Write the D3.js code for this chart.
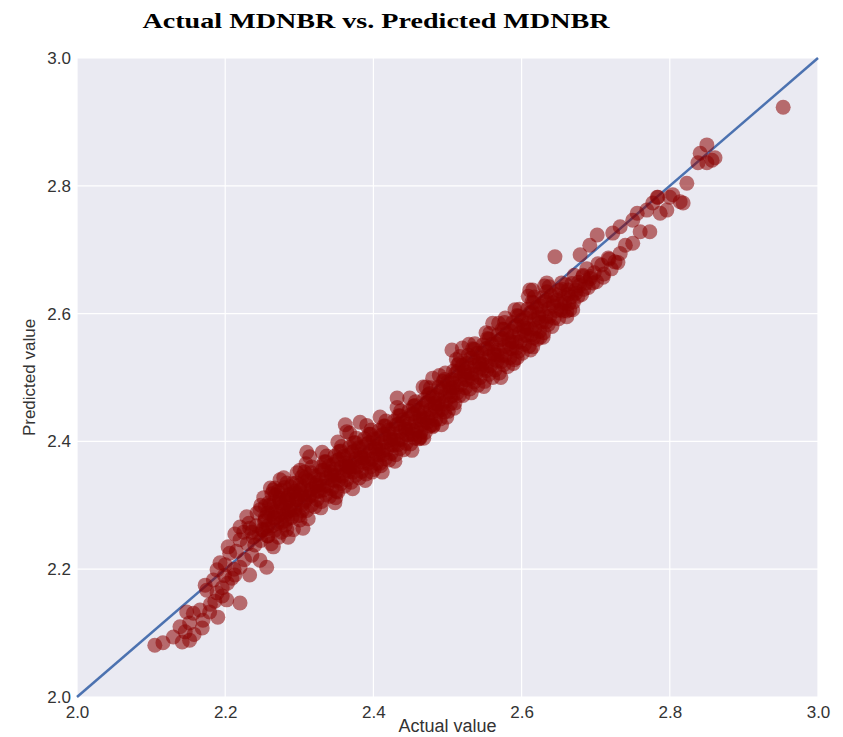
<!DOCTYPE html>
<html lang='en'>
<head>
<meta charset='utf-8'>
<script src='https://d3js.org/d3.v7.min.js'></script>
<style>
  body { margin: 0; background: #fff; }
  svg text { font-family: "Liberation Sans", Arial, sans-serif; fill: #333; }
</style>
</head>
<body>
<svg id='chart' width='843' height='737'></svg>
<script>
// axis ticks
var xTicks = [2.0, 2.2, 2.4, 2.6, 2.8, 3.0];
var yTicks = [2.0, 2.2, 2.4, 2.6, 2.8, 3.0];

// lower tail (actual, predicted)
var tailPoints = [
  [2.105,2.081],[2.116,2.085],[2.142,2.086],[2.152,2.089],[2.130,2.094],
  [2.139,2.110],[2.152,2.116],[2.169,2.108],[2.157,2.131],[2.148,2.133],
  [2.166,2.136],[2.179,2.133],[2.190,2.125],[2.175,2.167],[2.189,2.163],
  [2.202,2.152],[2.220,2.147],[2.173,2.175],[2.193,2.210],[2.189,2.199],
  [2.206,2.225],[2.220,2.203],[2.233,2.191],[2.256,2.203],[2.247,2.214],
  [2.204,2.235],[2.220,2.266],[2.229,2.282],[2.238,2.250],[2.251,2.261],
  [2.265,2.235],[2.220,2.246],[2.247,2.293],[2.265,2.324],[2.274,2.304],
  [2.283,2.335],[2.297,2.351],[2.184,2.183],[2.196,2.171],[2.209,2.186],
  [2.200,2.207],[2.213,2.191],[2.240,2.238],[2.254,2.277],[2.267,2.261],
  [2.281,2.285],[2.233,2.264],[2.260,2.300],[2.287,2.316],[2.294,2.293],
  [2.301,2.324],[2.274,2.340],[2.281,2.269],[2.301,2.277],
  [2.158,2.098],[2.146,2.102],[2.170,2.120],[2.180,2.145],[2.196,2.158],
  [2.186,2.150],[2.203,2.178],[2.212,2.200],[2.199,2.190],[2.226,2.215],
  [2.215,2.228],[2.236,2.222],[2.230,2.240],[2.245,2.255],[2.213,2.255],
  [2.225,2.258],
  [2.232,2.272],[2.242,2.268],[2.243,2.288],[2.236,2.258],[2.248,2.245],
  [2.258,2.252],[2.262,2.240],[2.272,2.250],[2.276,2.258],[2.292,2.262],
  [2.285,2.250]
];

// dense central band
var bandPoints = [
  [2.250,2.262],[2.254,2.281],[2.248,2.300],[2.252,2.312],
  [2.258,2.268],[2.262,2.286],[2.259,2.304],[2.263,2.318],
  [2.270,2.272],[2.268,2.290],[2.273,2.308],[2.271,2.322],[2.266,2.281],
  [2.281,2.276],[2.278,2.295],[2.283,2.311],[2.280,2.328],[2.284,2.290],
  [2.290,2.281],[2.288,2.299],[2.293,2.318],[2.291,2.334],[2.286,2.308],
  [2.300,2.284],[2.303,2.300],[2.298,2.316],[2.301,2.332],[2.304,2.345],[2.297,2.309],
  [2.310,2.292],[2.308,2.308],[2.313,2.323],[2.311,2.339],[2.307,2.352],[2.314,2.316],
  [2.321,2.298],[2.318,2.316],[2.323,2.331],[2.320,2.346],[2.317,2.360],[2.324,2.322],
  [2.330,2.306],[2.333,2.324],[2.328,2.340],[2.331,2.355],[2.334,2.368],[2.327,2.332],
  [2.341,2.314],[2.338,2.331],[2.343,2.348],[2.340,2.362],[2.337,2.377],[2.344,2.340],
  [2.350,2.322],[2.353,2.339],[2.348,2.356],[2.351,2.370],[2.354,2.384],[2.347,2.347],
  [2.361,2.330],[2.358,2.346],[2.363,2.362],[2.360,2.377],[2.357,2.392],[2.364,2.355],
  [2.370,2.336],[2.373,2.352],[2.368,2.368],[2.371,2.383],[2.374,2.398],[2.367,2.360],
  [2.381,2.343],[2.378,2.360],[2.383,2.375],[2.380,2.390],[2.377,2.405],[2.384,2.368],
  [2.390,2.349],[2.393,2.366],[2.388,2.382],[2.391,2.396],[2.394,2.411],[2.387,2.374],
  [2.401,2.356],[2.398,2.372],[2.403,2.389],[2.400,2.404],[2.397,2.418],[2.404,2.380],
  [2.410,2.362],[2.413,2.379],[2.408,2.395],[2.411,2.410],[2.414,2.424],[2.407,2.388],
  [2.421,2.371],[2.418,2.387],[2.423,2.403],[2.420,2.418],[2.417,2.432],[2.424,2.395],
  [2.430,2.379],[2.433,2.395],[2.428,2.411],[2.431,2.426],[2.434,2.440],[2.427,2.403],
  [2.441,2.387],[2.438,2.403],[2.443,2.419],[2.440,2.434],[2.437,2.448],[2.444,2.411],
  [2.450,2.396],[2.453,2.411],[2.448,2.427],[2.451,2.442],[2.454,2.455],[2.447,2.419],
  [2.461,2.404],[2.458,2.419],[2.463,2.434],[2.460,2.449],[2.457,2.462],[2.464,2.427],
  [2.470,2.414],[2.473,2.430],[2.468,2.445],[2.471,2.460],[2.474,2.473],[2.467,2.437],
  [2.481,2.425],[2.478,2.440],[2.483,2.455],[2.480,2.470],[2.477,2.484],[2.484,2.448],
  [2.490,2.435],[2.493,2.450],[2.488,2.465],[2.491,2.480],[2.494,2.494],[2.487,2.458],
  [2.501,2.447],[2.498,2.463],[2.503,2.478],[2.500,2.493],[2.497,2.507],[2.504,2.470],
  [2.510,2.460],[2.513,2.476],[2.508,2.491],[2.511,2.506],[2.514,2.520],[2.507,2.484],
  [2.521,2.472],[2.518,2.489],[2.523,2.504],[2.520,2.519],[2.517,2.533],[2.524,2.497],
  [2.530,2.482],[2.533,2.499],[2.528,2.515],[2.531,2.530],[2.534,2.545],[2.527,2.508],
  [2.541,2.488],[2.538,2.505],[2.543,2.522],[2.540,2.538],[2.537,2.553],[2.544,2.515],
  [2.550,2.494],[2.553,2.511],[2.548,2.529],[2.551,2.545],[2.554,2.561],[2.547,2.521],
  [2.561,2.500],[2.558,2.518],[2.563,2.536],[2.560,2.552],[2.557,2.569],[2.564,2.528],
  [2.570,2.507],[2.573,2.525],[2.568,2.543],[2.571,2.559],[2.574,2.576],[2.567,2.535],
  [2.581,2.517],[2.578,2.535],[2.583,2.553],[2.580,2.569],[2.577,2.586],[2.584,2.545],
  [2.590,2.528],[2.593,2.546],[2.588,2.564],[2.591,2.580],[2.594,2.597],[2.587,2.556],
  [2.601,2.538],[2.598,2.556],[2.603,2.574],[2.600,2.590],[2.597,2.607],[2.604,2.566],
  [2.610,2.549],[2.613,2.567],[2.608,2.585],[2.611,2.601],[2.614,2.618],[2.607,2.577],
  [2.621,2.560],[2.618,2.577],[2.623,2.594],[2.620,2.610],[2.617,2.626],[2.624,2.586],
  [2.630,2.570],[2.633,2.587],[2.628,2.603],[2.631,2.619],[2.634,2.634],
  [2.641,2.580],[2.638,2.596],[2.643,2.612],[2.640,2.628],[2.637,2.642],
  [2.650,2.592],[2.653,2.606],[2.648,2.621],[2.651,2.636],[2.654,2.648],
  [2.661,2.604],[2.658,2.617],[2.663,2.630],[2.660,2.645],
  [2.670,2.618],[2.673,2.632],[2.668,2.647],[2.671,2.660],
  [2.681,2.630],[2.678,2.644],[2.683,2.658],
  [2.690,2.641],[2.693,2.655],[2.688,2.670],
  [2.701,2.650],[2.698,2.664],[2.703,2.678],
  [2.711,2.662],[2.708,2.676],
  [2.721,2.670],[2.718,2.685],
  [2.730,2.680],[2.733,2.694]
];

// second layer of the band, between the first layer's points
var bandFill = [
  [2.256,2.263],[2.253,2.275],[2.257,2.288],[2.254,2.299],
  [2.264,2.268],[2.267,2.280],[2.263,2.293],[2.266,2.305],[2.268,2.316],
  [2.276,2.273],[2.273,2.286],[2.277,2.299],[2.274,2.311],[2.276,2.323],
  [2.284,2.279],[2.287,2.292],[2.283,2.305],[2.286,2.317],[2.288,2.329],
  [2.296,2.284],[2.293,2.297],[2.297,2.310],[2.294,2.322],[2.296,2.335],
  [2.304,2.292],[2.307,2.305],[2.303,2.318],[2.306,2.330],[2.308,2.343],
  [2.316,2.300],[2.313,2.313],[2.317,2.326],[2.314,2.338],[2.316,2.351],
  [2.324,2.309],[2.327,2.322],[2.323,2.335],[2.326,2.347],[2.328,2.360],
  [2.336,2.317],[2.333,2.330],[2.337,2.343],[2.334,2.355],[2.336,2.368],
  [2.344,2.326],[2.347,2.339],[2.343,2.352],[2.346,2.364],[2.348,2.377],
  [2.356,2.334],[2.353,2.347],[2.357,2.360],[2.354,2.372],[2.356,2.385],
  [2.364,2.340],[2.367,2.353],[2.363,2.366],[2.366,2.378],[2.368,2.391],
  [2.376,2.347],[2.373,2.360],[2.377,2.373],[2.374,2.385],[2.376,2.398],
  [2.384,2.353],[2.387,2.366],[2.383,2.379],[2.386,2.391],[2.388,2.404],
  [2.396,2.360],[2.393,2.373],[2.397,2.386],[2.394,2.398],[2.396,2.411],
  [2.404,2.366],[2.407,2.379],[2.403,2.392],[2.406,2.404],[2.408,2.417],
  [2.416,2.373],[2.413,2.386],[2.417,2.399],[2.414,2.411],[2.416,2.424],
  [2.424,2.381],[2.427,2.394],[2.423,2.407],[2.426,2.419],[2.428,2.432],
  [2.436,2.389],[2.433,2.402],[2.437,2.415],[2.434,2.427],[2.436,2.440],
  [2.444,2.397],[2.447,2.410],[2.443,2.423],[2.446,2.435],[2.448,2.448],
  [2.456,2.405],[2.453,2.418],[2.457,2.431],[2.454,2.443],[2.456,2.456],
  [2.464,2.414],[2.467,2.427],[2.463,2.440],[2.466,2.452],[2.468,2.465],
  [2.476,2.424],[2.473,2.437],[2.477,2.450],[2.474,2.462],[2.476,2.475],
  [2.484,2.434],[2.487,2.447],[2.483,2.460],[2.486,2.472],[2.488,2.485],
  [2.496,2.446],[2.493,2.459],[2.497,2.472],[2.494,2.484],[2.496,2.497],
  [2.504,2.459],[2.507,2.472],[2.503,2.485],[2.506,2.497],[2.508,2.510],
  [2.516,2.472],[2.513,2.485],[2.517,2.498],[2.514,2.510],[2.516,2.523],
  [2.524,2.484],[2.527,2.497],[2.523,2.510],[2.526,2.522],[2.528,2.535],
  [2.536,2.493],[2.533,2.506],[2.537,2.519],[2.534,2.531],[2.536,2.544],
  [2.544,2.500],[2.547,2.513],[2.543,2.526],[2.546,2.538],[2.548,2.551],
  [2.556,2.505],[2.553,2.519],[2.557,2.533],[2.554,2.546],[2.556,2.560],
  [2.564,2.512],[2.567,2.526],[2.563,2.540],[2.566,2.553],[2.568,2.567],
  [2.576,2.520],[2.573,2.534],[2.577,2.548],[2.574,2.561],[2.576,2.575],
  [2.584,2.531],[2.587,2.545],[2.583,2.559],[2.586,2.572],[2.588,2.586],
  [2.596,2.541],[2.593,2.555],[2.597,2.569],[2.594,2.582],[2.596,2.596],
  [2.604,2.552],[2.607,2.566],[2.603,2.580],[2.606,2.593],[2.608,2.607],
  [2.616,2.562],[2.613,2.576],[2.617,2.590],[2.614,2.603],[2.616,2.617],
  [2.624,2.572],[2.627,2.586],[2.623,2.599],[2.626,2.612],[2.628,2.625],
  [2.636,2.583],[2.633,2.596],[2.637,2.608],[2.634,2.621],
  [2.644,2.593],[2.647,2.605],[2.643,2.617],[2.646,2.630],
  [2.656,2.604],[2.653,2.615],[2.657,2.626],[2.654,2.638],
  [2.664,2.616],[2.667,2.626],[2.663,2.637],
  [2.676,2.627],[2.673,2.637],[2.677,2.649],
  [2.684,2.638],[2.687,2.648],[2.683,2.660],
  [2.696,2.648],[2.693,2.658]
];

// points along the upper and lower edges of the band
var edgePoints = [
  [2.261,2.327],[2.257,2.252],[2.279,2.343],[2.283,2.262],
  [2.309,2.365],[2.312,2.279],[2.331,2.383],[2.329,2.296],
  [2.352,2.399],[2.349,2.312],[2.368,2.413],[2.372,2.326],
  [2.391,2.425],[2.389,2.339],[2.409,2.438],[2.412,2.352],
  [2.432,2.453],[2.429,2.369],[2.449,2.468],[2.452,2.386],
  [2.471,2.485],[2.468,2.405],[2.489,2.503],[2.492,2.426],
  [2.512,2.528],[2.509,2.452],[2.529,2.552],[2.532,2.476],
  [2.552,2.570],[2.549,2.486],[2.569,2.585],[2.572,2.500],
  [2.591,2.606],[2.589,2.522],[2.609,2.627],[2.612,2.543],
  [2.631,2.643],[2.629,2.563]
];

// scattered points around the band and the upper end
var outerPoints = [
  [2.310,2.383],[2.314,2.376],[2.267,2.327],[2.301,2.355],[2.362,2.426],
  [2.364,2.415],[2.382,2.430],[2.348,2.304],[2.305,2.264],[2.398,2.352],
  [2.409,2.366],[2.432,2.468],[2.463,2.405],[2.479,2.426],[2.467,2.485],
  [2.480,2.499],[2.352,2.321],[2.368,2.360],
  [2.506,2.543],[2.520,2.546],[2.561,2.585],[2.578,2.593],[2.463,2.407],
  [2.480,2.423],[2.499,2.438],[2.594,2.531],[2.615,2.548],[2.669,2.606],
  [2.661,2.595],[2.634,2.648],[2.611,2.637],
  [2.645,2.689],[2.679,2.692],[2.702,2.723],[2.773,2.728],[2.750,2.710],
  [2.783,2.782],[2.804,2.786],[2.818,2.773],[2.823,2.804],[2.756,2.757],
  [2.787,2.757],[2.615,2.637],[2.710,2.657],[2.665,2.606],[2.625,2.563],
  [2.850,2.864],[2.841,2.851],[2.857,2.840],[2.838,2.836],[2.814,2.775],
  [2.800,2.782],[2.784,2.782],[2.777,2.773],[2.796,2.762],[2.769,2.762],
  [2.750,2.746],[2.733,2.736],[2.723,2.726],[2.850,2.836],[2.861,2.844],
  [2.740,2.707],[2.726,2.681],[2.760,2.728],[2.692,2.707],[2.717,2.687],
  [2.953,2.923]
];

var points = tailPoints.concat(bandPoints, bandFill, edgePoints, outerPoints);

var svg = d3.select('#chart');
var margin = {top: 58, right: 25, bottom: 40, left: 77};
var width = 843 - margin.left - margin.right,   // 741
    height = 737 - margin.top - margin.bottom;  // 639

var x = d3.scaleLinear().domain([2.0, 3.0]).range([0, width]);
var y = d3.scaleLinear().domain([2.0, 3.0]).range([height, 0]);

var g = svg.append('g')
  .attr('transform', 'translate(' + margin.left + ',' + margin.top + ')');

// seaborn-like background
g.append('rect')
  .attr('width', width)
  .attr('height', height)
  .attr('fill', '#eaeaf2');

// grid
g.selectAll('.vgrid')
  .data(xTicks)
  .enter()
  .append('line')
  .attr('x1', d => x(d)).attr('x2', d => x(d))
  .attr('y1', 0).attr('y2', height)
  .attr('stroke', '#fff').attr('stroke-width', 1.2);

g.selectAll('.hgrid')
  .data(yTicks)
  .enter()
  .append('line')
  .attr('y1', d => y(d)).attr('y2', d => y(d))
  .attr('x1', 0).attr('x2', width)
  .attr('stroke', '#fff').attr('stroke-width', 1.2);

// identity line
g.append('line')
  .attr('x1', x(2.0)).attr('y1', y(2.0))
  .attr('x2', x(3.0)).attr('y2', y(3.0))
  .attr('stroke', '#4c72b0')
  .attr('stroke-width', 2.5);

// points
g.selectAll('circle')
  .data(points)
  .enter()
  .append('circle')
  .attr('cx', d => x(d[0]))
  .attr('cy', d => y(d[1]))
  .attr('r', 7.5)
  .attr('fill', '#8b0000')
  .attr('fill-opacity', 0.55);

// axes (labels only, no tick marks)
var xAxis = d3.axisBottom(x).tickValues(xTicks).tickFormat(d3.format('.1f')).tickSize(0).tickPadding(9);
var yAxis = d3.axisLeft(y).tickValues(yTicks).tickFormat(d3.format('.1f')).tickSize(0).tickPadding(6);

var gx = g.append('g')
  .attr('transform', 'translate(0,' + height + ')')
  .call(xAxis);
var gy = g.append('g').call(yAxis);

[gx, gy].forEach(function(a) {
  a.select('.domain').remove();
  a.selectAll('text')
    .style('font-size', '17px')
    .style('font-family', '"Liberation Sans", Arial, sans-serif')
    .attr('fill', '#333');
});

// axis labels
svg.append('text')
  .attr('x', margin.left + width / 2)
  .attr('y', 732)
  .attr('text-anchor', 'middle')
  .style('font-size', '18px')
  .text('Actual value');

svg.append('text')
  .attr('transform', 'translate(35,' + (margin.top + height / 2) + ') rotate(-90)')
  .attr('text-anchor', 'middle')
  .style('font-size', '17px')
  .text('Predicted value');

// title
svg.append('text')
  .attr('x', 376)
  .attr('y', 28)
  .attr('text-anchor', 'middle')
  .attr('textLength', 467)
  .attr('lengthAdjust', 'spacingAndGlyphs')
  .style('font-family', '"Liberation Serif", "Times New Roman", serif')
  .style('font-weight', 'bold')
  .style('font-size', '22px')
  .style('fill', '#000')
  .text('Actual MDNBR vs. Predicted MDNBR');
</script>
</body>
</html>
